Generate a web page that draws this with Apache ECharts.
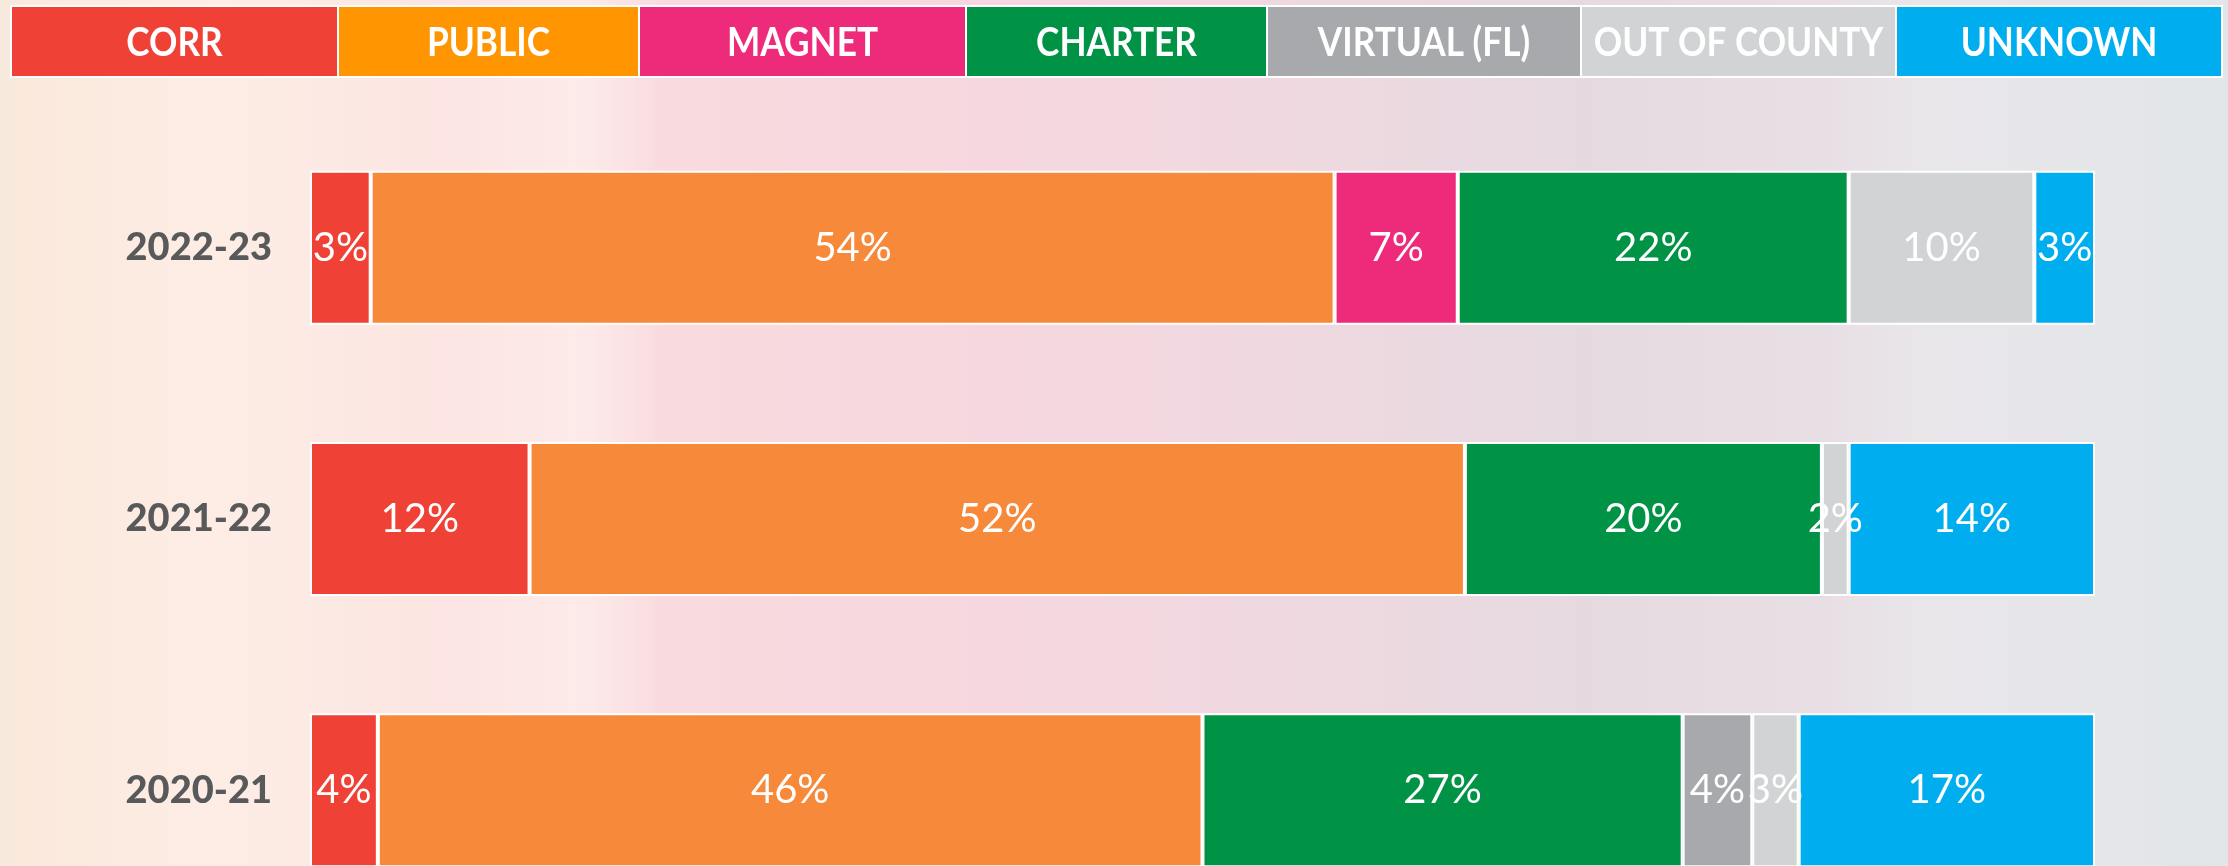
<!DOCTYPE html>
<html>
<head>
<meta charset="utf-8">
<title>Enrollment by school type</title>
<script src="https://cdn.jsdelivr.net/npm/echarts@6/dist/echarts.min.js"></script>
<style>
  html, body { margin: 0; padding: 0; overflow: hidden; }
  /* the chart runs past the bottom of the window, like the original slide */
  #chart { width: 2228px; height: 1000px; }
</style>
</head>
<body>
<div id="chart"></div>
<script>
// categories (top to bottom)
var years = ['2022-23', '2021-22', '2020-21'];

// series names, in stacking order
var seriesNames = ['CORR', 'PUBLIC', 'MAGNET', 'CHARTER', 'VIRTUAL (FL)', 'OUT OF COUNTY', 'UNKNOWN'];

// share of students per year (%)
var corr         = [3.4, 12.3, 3.8];
var publicSchool = [54.0, 52.4, 46.2];
var magnet       = [6.9, 0, 0];
var charter      = [21.9, 20.0, 26.9];
var virtualFL    = [0, 0, 3.9];
var outOfCounty  = [10.4, 1.5, 2.6];
var unknown      = [3.4, 13.8, 16.6];

var seriesData = [corr, publicSchool, magnet, charter, virtualFL, outOfCounty, unknown];

// colours
var barColors    = ['#ef4136', '#f7893a', '#ee2a7b', '#009245', '#a7a9ac', '#d1d3d4', '#00aeef'];
var legendColors = ['#ef4136', '#ff9500', '#ee2a7b', '#009245', '#a7a9ac', '#d1d3d4', '#00aeef'];

// header cell edges (px)
var legendEdges = [11, 338, 639, 966, 1267, 1581, 1896, 2222];

var chart = echarts.init(document.getElementById('chart'));

var series = seriesNames.map(function (name, i) {
  return {
    name: name,
    type: 'bar',
    stack: 'total',
    barWidth: 154,
    data: seriesData[i],
    itemStyle: {
      color: barColors[i],
      borderColor: '#ffffff',
      borderWidth: 2
    },
    label: {
      show: true,
      position: 'inside',
      color: '#ffffff',
      fontFamily: 'Lato',
      fontSize: 40,
      formatter: function (p) {
        return p.value > 0 ? Math.round(p.value) + '%' : '';
      }
    }
  };
});

// header row: coloured cells with the series names
var legendCells = [];
seriesNames.forEach(function (name, i) {
  var x0 = legendEdges[i], x1 = legendEdges[i + 1];
  legendCells.push({
    type: 'rect',
    shape: { x: x0, y: 6, width: x1 - x0, height: 71 },
    style: { fill: legendColors[i], stroke: '#ffffff', lineWidth: 2 }
  });
  legendCells.push({
    type: 'text',
    x: (x0 + x1) / 2,
    y: 43,
    scaleX: 0.88,
    style: {
      text: name,
      fill: '#ffffff',
      font: 'bold 40px Lato, sans-serif',
      align: 'center',
      verticalAlign: 'middle'
    }
  });
});

var option = {
  animation: false,
  backgroundColor: {
    type: 'linear', x: 0, y: 0, x2: 1, y2: 0,
    colorStops: [
      { offset: 0.00, color: '#f6e9de' },
      { offset: 0.01, color: '#fbe9dc' },
      { offset: 0.10, color: '#fdede5' },
      { offset: 0.20, color: '#fce5e2' },
      { offset: 0.26, color: '#fdebea' },
      { offset: 0.30, color: '#f9dade' },
      { offset: 0.45, color: '#f6d7df' },
      { offset: 0.58, color: '#efd8e0' },
      { offset: 0.72, color: '#e5dae0' },
      { offset: 0.82, color: '#e8dfe5' },
      { offset: 0.86, color: '#e9e6ea' },
      { offset: 1.00, color: '#e2e6e9' }
    ]
  },
  grid: {
    left: 310,
    right: 133,
    top: 112,
    height: 814
  },
  xAxis: {
    type: 'value',
    min: 0,
    max: 100,
    show: false
  },
  yAxis: {
    type: 'category',
    data: years,
    inverse: true,
    axisLine: { show: false },
    axisTick: { show: false },
    splitLine: { show: false },
    axisLabel: {
      margin: 38,
      color: '#58595b',
      fontFamily: 'Lato',
      fontWeight: 900,
      fontSize: 38
    }
  },
  graphic: legendCells,
  series: series
};

chart.setOption(option);
</script>
</body>
</html>
